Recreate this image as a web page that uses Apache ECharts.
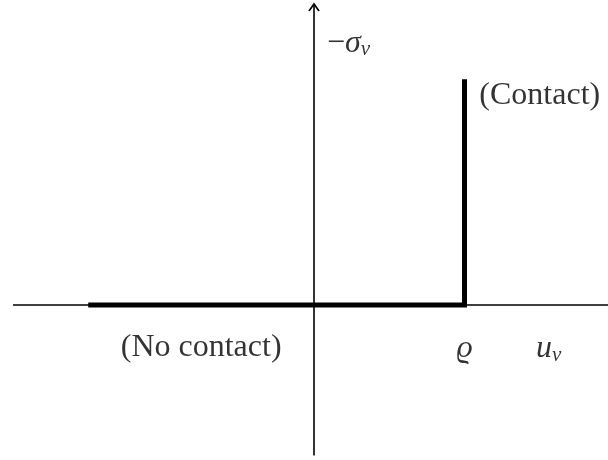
<!DOCTYPE html>
<html>
<head>
<meta charset="utf-8">
<style>
  html, body { margin: 0; padding: 0; background: #fff; }
  #chart { width: 608px; height: 460px; }
</style>
<script src="https://cdn.jsdelivr.net/npm/echarts@6/dist/echarts.min.js"></script>
</head>
<body>
<div id="chart"></div>
<script>
// Unilateral contact law: normal stress vs. normal displacement, gap rho = 1.
const rho = 1;
const lawX = [-1.5, rho, rho];
const lawY = [0, 0, 1.5];

// Extent of the drawn coordinate axes
const axisHX = [-2, 1.96];
const axisVY = [-1, 2];

// Text annotations: [x, y, key]
const labelX = [0.23, 1.5, -0.75, rho, 1.56];
const labelY = [1.74, 1.39, -0.28, -0.29, -0.29];
const labelKey = ['sigma', 'contact', 'nocontact', 'rho', 'u'];
const labelText = {
  sigma: '{n|−}{i|σ}{s|ν}',
  contact: '{n|(Contact)}',
  nocontact: '{n|(No contact)}',
  rho: '{i|ϱ}',
  u: '{i|u}{s|ν}'
};

const FONT = '"Liberation Serif", "DejaVu Serif", serif';
const FS = 32;

const chart = echarts.init(document.getElementById('chart'), null, { renderer: 'canvas' });

const pxPerUnit = 150.5;
const W = 608, H = 460, ox = 314, oy = 305;

chart.setOption({
  animation: false,
  backgroundColor: '#ffffff',
  grid: { left: 0, right: 0, top: 0, bottom: 0 },
  xAxis: {
    type: 'value', show: false,
    min: -ox / pxPerUnit, max: (W - ox) / pxPerUnit
  },
  yAxis: {
    type: 'value', show: false,
    min: -(H - oy) / pxPerUnit, max: oy / pxPerUnit
  },
  series: [
    {
      name: 'u-axis', type: 'line', silent: true,
      data: axisHX.map(x => [x, 0]),
      symbol: 'none',
      lineStyle: { color: '#000', width: 1.6 }
    },
    {
      name: 'sigma-axis', type: 'line', silent: true,
      data: [
        [0, axisVY[0]],
        {
          value: [0, axisVY[1]],
          symbol: 'path://M0,10 L5,0 L10,10',
          symbolSize: [10, 7],
          symbolOffset: [0, 3.5],
          itemStyle: { color: 'rgba(0,0,0,0)', borderColor: '#000', borderWidth: 1.6 }
        }
      ],
      symbol: 'none',
      showSymbol: true,
      lineStyle: { color: '#000', width: 1.6 }
    },
    {
      name: 'contact law', type: 'line', silent: true,
      data: lawX.map((x, i) => [x, lawY[i]]),
      symbol: 'none',
      lineStyle: { color: '#000', width: 5, join: 'miter', cap: 'butt' }
    },
    {
      name: 'labels', type: 'scatter', silent: true,
      symbolSize: 0,
      data: labelX.map((x, i) => ({ value: [x, labelY[i]], key: labelKey[i] })),
      label: {
        show: true,
        position: 'inside',
        formatter: p => labelText[p.data.key],
        rich: {
          n: { fontFamily: FONT, fontSize: FS, color: '#000', lineHeight: 36 },
          i: { fontFamily: FONT, fontSize: FS, fontStyle: 'italic', color: '#000', lineHeight: 36 },
          s: { fontFamily: FONT, fontSize: 21, fontStyle: 'italic', color: '#000', lineHeight: 22, padding: [13, 0, 0, 0] }
        }
      }
    }
  ]
});
</script>
</body>
</html>
